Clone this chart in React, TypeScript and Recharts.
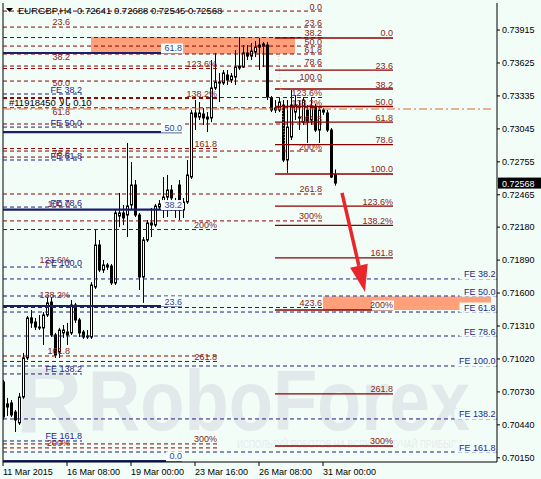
import React from 'react';
import { ComposedChart, Bar, XAxis, YAxis, ReferenceLine, ReferenceArea } from 'recharts';

// ---------- data ----------
const opens = [0.70817,0.70624,0.70633,0.70553,0.70457,0.70685,0.71029,0.71381,0.71345,0.71301,0.71293,0.71407,0.71521,0.71231,0.71081,0.71249,0.71257,0.71249,0.71495,0.71363,0.71257,0.71222,0.71213,0.71653,0.72023,0.71803,0.71847,0.71838,0.71689,0.72278,0.72305,0.72287,0.72375,0.72551,0.72287,0.71741,0.72067,0.72217,0.72199,0.72357,0.72375,0.72445,0.72507,0.72401,0.72551,0.72331,0.72401,0.72621,0.73185,0.73149,0.73176,0.73149,0.73141,0.73405,0.73449,0.73449,0.73519,0.73475,0.73501,0.73581,0.73589,0.73713,0.73686,0.73721,0.73765,0.73774,0.73783,0.73317,0.73229,0.73211,0.73255,0.72771,0.72973,0.73193,0.73149,0.73105,0.73211,0.73123,0.73237,0.73035,0.73211,0.73185,0.73035,0.72641];
const highs = [0.70835,0.70677,0.70659,0.70571,0.70721,0.71073,0.71398,0.71451,0.71381,0.71407,0.71433,0.71565,0.71565,0.71249,0.71293,0.71319,0.71337,0.71539,0.71513,0.71381,0.71275,0.71275,0.71697,0.72155,0.72067,0.71891,0.71865,0.71856,0.72331,0.72481,0.72375,0.72921,0.72753,0.72595,0.72305,0.72093,0.72243,0.72349,0.72384,0.72419,0.72621,0.72639,0.72551,0.72437,0.72595,0.72437,0.72771,0.73211,0.73299,0.73281,0.73229,0.73193,0.73651,0.73713,0.73537,0.73563,0.73563,0.73537,0.73739,0.73853,0.73783,0.73783,0.73801,0.73818,0.73845,0.73809,0.73809,0.73334,0.73299,0.73317,0.73299,0.73299,0.73387,0.73343,0.73299,0.73325,0.73255,0.73325,0.73264,0.73229,0.73229,0.73211,0.73053,0.72688];
const lows = [0.70483,0.70518,0.70509,0.70377,0.70439,0.70668,0.71011,0.71293,0.71275,0.71275,0.71143,0.71389,0.71213,0.71029,0.71029,0.71205,0.71143,0.71231,0.71337,0.71213,0.71196,0.71196,0.71196,0.71636,0.71785,0.71777,0.71803,0.71671,0.71671,0.72181,0.72199,0.72093,0.72331,0.72269,0.71627,0.71513,0.72049,0.72093,0.72181,0.72340,0.72261,0.72269,0.72322,0.72261,0.72243,0.72261,0.72384,0.72604,0.73035,0.73123,0.73079,0.73017,0.73105,0.73387,0.73281,0.73431,0.73431,0.73449,0.73431,0.73563,0.73581,0.73651,0.73651,0.73677,0.73563,0.73589,0.73299,0.73193,0.73185,0.73193,0.72753,0.72657,0.72947,0.73123,0.73035,0.73079,0.72921,0.73079,0.73017,0.72921,0.73167,0.73017,0.72613,0.72545];
const closes = [0.70509,0.70597,0.70527,0.70483,0.70685,0.71029,0.71381,0.71337,0.71301,0.71293,0.71407,0.71513,0.71231,0.71055,0.71275,0.71275,0.71231,0.71495,0.71363,0.71249,0.71213,0.71213,0.71671,0.72023,0.71803,0.71847,0.71829,0.71689,0.72305,0.72305,0.72261,0.72366,0.72551,0.72287,0.71741,0.72067,0.72217,0.72199,0.72366,0.72384,0.72445,0.72507,0.72437,0.72331,0.72331,0.72401,0.72639,0.73185,0.73149,0.73185,0.73141,0.73132,0.73405,0.73457,0.73457,0.73537,0.73475,0.73510,0.73589,0.73598,0.73713,0.73686,0.73730,0.73765,0.73783,0.73792,0.73325,0.73211,0.73211,0.73281,0.72771,0.73061,0.73255,0.73255,0.73141,0.73299,0.73105,0.73237,0.73035,0.73211,0.73193,0.73035,0.72621,0.72568];

const xTickIdx = [0, 16, 32, 48, 64, 80];
const xTickLabels = ['11 Mar 2015', '16 Mar 08:00', '19 Mar 00:00', '23 Mar 16:00', '26 Mar 08:00', '31 Mar 00:00'];
const yTicks = [0.73915,0.73625,0.73335,0.73045,0.72755,0.72465,0.72180,0.71890,0.71600,0.71310,0.71020,0.70730,0.70440,0.70150];

const setBLabels = ['0.0','23.6','38.2','50.0','61.8','78.6','100.0','123.6%','138.2%','161.8','200%','261.8','300%','423.6'];
const setBPrices = [0.74082,0.73941,0.73849,0.73774,0.73704,0.73598,0.73466,0.73321,0.73231,0.73088,0.72850,0.72472,0.72235,0.71473];

const setALabels = ['23.6','38.2','50.0','61.8','78.6','100.0','123.6%','138.2%','161.8','200%'];
const setAPrices = [0.73950,0.73642,0.73405,0.73158,0.72797,0.72340,0.71847,0.71539,0.71046,0.70237];
const setALinePrices = [0.72797,0.71046,0.70237];

const setDLabels = ['123.6%','138.2%','161.8','200%','261.8','300%'];
const setDPrices = [0.73576,0.73312,0.72872,0.72159,0.70998,0.70272];

const setCLabels = ['0.0','23.6','38.2','50.0','61.8','78.6','100.0','123.6%','138.2%','161.8','200%','261.8','300%'];
const setCPrices = [0.73845,0.73563,0.73396,0.73242,0.73105,0.72907,0.72648,0.72366,0.72195,0.71909,0.71451,0.70712,0.70254];

const feLabels = ['FE 38.2','FE 50.0','FE 61.8','FE 78.6','FE 100.0','FE 138.2','FE 161.8'];
const feRightPrices = [0.71724,0.71574,0.71433,0.71222,0.70958,0.70492,0.70201];
const feLeftPrices = [0.73352,0.73061,0.72771,0.72357,0.71829,0.70888,0.70298];

const navyLabels = ['61.8','50.0','38.2','23.6','0.0'];
const navyPrices = [0.73713,0.73017,0.72335,0.71486,0.70122];

const orderPrice = 0.73220;
const orderText = '#11918450 \u200Eبالا\u200E 0.10';
const titleText = 'EURGBP,H4  0.72641 0.72688 0.72545 0.72568';

// index ranges (bars) and price ranges for drawn objects
const topZone = { x1: 22, x2: 73, y1: 0.73704, y2: 0.73853 };
const bottomZone = { x1: 80, x2: 122, y1: 0.71451, y2: 0.71570 };
const arrowFrom = { x: 84.75, y: 0.72481 };
const arrowTo = { x: 90.5, y: 0.71609 };
const trendFrom = { x: 68.75, y: 0.73739 };
const trendTo = { x: 71, y: 0.72657 };

const data = opens.map((o, i) => ({ i, o, h: highs[i], l: lows[i], c: closes[i] }));

// ---------- styles ----------
const FONT = '"Liberation Sans", Arial, sans-serif';
const BG = '#F2FDF8';
const RED_LINE = '#8b0000';
const RED_TEXT = '#8a2418';
const NAVY_DASH = '#1f1f7a';
const NAVY_TEXT = '#26268a';
const NAVY_SOLID = '#1b1f6a';
const NAVY_LABEL = '#2f469c';

const Candle = (props: any) => {
  const { x, y, width, height, payload } = props;
  if (x == null || y == null) return null;
  const cx = Math.round(x + width / 2) + 0.5;
  const { o, h, l, c } = payload;
  const range = h - l || 1e-9;
  const yOf = (v: number) => y + ((h - v) / range) * height;
  const top = yOf(Math.max(o, c));
  const bot = yOf(Math.min(o, c));
  const bull = c >= o;
  return (
    <g>
      <line x1={cx} x2={cx} y1={y} y2={y + height} stroke="#000" strokeWidth={1} />
      {bull ? (
        <rect x={cx - 1} y={top} width={2} height={Math.max(bot - top, 1)} fill="#fff" stroke="#000" strokeWidth={1} />
      ) : (
        <rect x={cx - 1.5} y={top - 0.5} width={3} height={Math.max(bot - top, 1) + 1} fill="#000" />
      )}
    </g>
  );
};

const endLabel = (text: string, color: string, opts: any = {}) => (props: any) => {
  const vb = props.viewBox || {};
  const xe = (vb.x || 0) + (vb.width || 0) + (opts.dx || 0);
  const yb = (vb.y || 0) - 1.5;
  const w = text.length * 5.0;
  return (
    <g>
      {opts.bg ? <rect x={xe - w - 1} y={yb - 8} width={w + 2} height={10} fill={opts.bg} /> : null}
      <text x={xe} y={yb} textAnchor="end" fill={color} fontSize={9} fontFamily={FONT}>{text}</text>
    </g>
  );
};

const orderLabel = (props: any) => {
  const vb = props.viewBox || {};
  return (
    <text x={(vb.x || 0) + 6} y={(vb.y || 0) - 3} fill="#000" fontSize={9.5} fontFamily={FONT} direction="ltr">{orderText}</text>
  );
};

const priceBox = (props: any) => {
  const vb = props.viewBox || {};
  const x0 = (vb.x || 0) + (vb.width || 0) + 1;
  const yc = vb.y || 0;
  return (
    <g>
      <rect x={x0} y={yc - 5.5} width={43} height={11} fill="#000" />
      <text x={x0 + 4} y={yc + 3.5} fill="#fff" fontSize={9} fontFamily={FONT}>0.72568</text>
    </g>
  );
};

const ArrowShape = (p: any) => {
  const { x1, y1, x2, y2 } = p;
  if (x1 == null) return null;
  const ang = Math.atan2(y2 - y1, x2 - x1);
  const L = 27, W = 9;
  const bx = x2 - L * Math.cos(ang);
  const by = y2 - L * Math.sin(ang);
  const lx = bx + W * Math.sin(ang), ly = by - W * Math.cos(ang);
  const rx = bx - W * Math.sin(ang), ry = by + W * Math.cos(ang);
  return (
    <g>
      <line x1={x1} y1={y1} x2={bx} y2={by} stroke="#e8262b" strokeWidth={3.5} />
      <polygon points={`${x2},${y2} ${lx},${ly} ${rx},${ry}`} fill="#e8262b" />
    </g>
  );
};

const XTick = (props: any) => {
  const { x, y, payload } = props;
  const k = xTickIdx.indexOf(payload.value);
  return (
    <text x={x} y={y + 7} textAnchor="start" fontSize={9} fontFamily={FONT} fill="#000">{k >= 0 ? xTickLabels[k] : ''}</text>
  );
};

const LAST = 123.5;

export default function App() {
  return (
    <div style={{ position: 'absolute', left: 0, top: 0, width: 541, height: 479, background: BG, overflow: 'hidden' }}>
      <svg width={541} height={479} style={{ position: 'absolute', left: 0, top: 0 }}>
        <text x={16} y={432} fontSize={92} fontWeight="bold" fontFamily={FONT} fill="#e1e9ea">R</text>
        <text x={88} y={430} fontSize={86} fontWeight="bold" fontFamily={FONT} fill="#e1e9ea" textLength={382} lengthAdjust="spacingAndGlyphs">RoboForex</text>
        <text x={237} y={448} fontSize={11} fontFamily={FONT} fill="#e4ecec" textLength={225} lengthAdjust="spacingAndGlyphs">ИСПОЛЬЗУЙ РОБОТОВ НА ВСЯКИЙ СЛУЧАЙ ПРИБЫЛИ</text>
      </svg>
      <div style={{ position: 'absolute', left: 0, top: 0 }}>
        <ComposedChart width={541} height={479} data={data} margin={{ top: 3, right: 0, bottom: 0, left: 3 }}>
          <XAxis
            type="number"
            dataKey="i"
            domain={[0, LAST]}
            allowDataOverflow
            ticks={xTickIdx}
            interval={0}
            tick={<XTick />}
            tickSize={4}
            height={17}
            axisLine={{ stroke: '#000' }}
            tickLine={{ stroke: '#000' }}
          />
          <YAxis
            orientation="right"
            type="number"
            domain={[0.70113, 0.74153]}
            allowDataOverflow
            ticks={yTicks}
            interval={0}
            width={44}
            tickSize={3}
            tickMargin={2}
            tickFormatter={(v: number) => v.toFixed(5)}
            tick={{ fontSize: 9, fill: '#000', fontFamily: FONT }}
            axisLine={{ stroke: '#000' }}
            tickLine={{ stroke: '#000' }}
          />
          <ReferenceArea x1={topZone.x1} x2={topZone.x2} y1={topZone.y1} y2={topZone.y2} fill="#ffa07a" fillOpacity={1} stroke="none" />
          <ReferenceArea x1={bottomZone.x1} x2={bottomZone.x2} y1={bottomZone.y1} y2={bottomZone.y2} fill="#ffa07a" fillOpacity={1} stroke="none" />

          <Bar dataKey={(d: any) => [d.l, d.h]} shape={Candle} barSize={4} isAnimationActive={false} />

          <ReferenceLine x={0} stroke="#000" />

          {setBPrices.map((p, k) => (
            <ReferenceLine key={'b' + k} segment={[{ x: 0, y: p }, { x: 79.75, y: p }]} stroke={RED_LINE} strokeDasharray="4 3" label={endLabel(setBLabels[k], RED_TEXT)} />
          ))}
          {setALinePrices.map((p, k) => (
            <ReferenceLine key={'al' + k} segment={[{ x: 0, y: p }, { x: 53.5, y: p }]} stroke={RED_LINE} strokeDasharray="4 3" />
          ))}
          {setAPrices.map((p, k) => (
            <ReferenceLine key={'a' + k} segment={[{ x: 0, y: p }, { x: 16.75, y: p }]} stroke="none" label={endLabel(setALabels[k], RED_TEXT)} />
          ))}
          {setDPrices.map((p, k) => (
            <ReferenceLine key={'d' + k} segment={[{ x: 0, y: p }, { x: 53.5, y: p }]} stroke={RED_LINE} strokeDasharray="4 3" label={endLabel(setDLabels[k], RED_TEXT)} />
          ))}
          {setCPrices.map((p, k) => (
            <ReferenceLine key={'c' + k} segment={[{ x: 68, y: p }, { x: 97.5, y: p }]} stroke={RED_LINE} strokeWidth={1.3} label={endLabel(setCLabels[k], RED_TEXT, { bg: k === 10 ? BG : undefined })} />
          ))}
          {feRightPrices.map((p, k) => (
            <ReferenceLine key={'fr' + k} segment={[{ x: 0, y: p }, { x: LAST, y: p }]} stroke={NAVY_DASH} strokeDasharray="4 3" label={endLabel(feLabels[k], NAVY_TEXT, { dx: -1.5, bg: BG })} />
          ))}
          {feLeftPrices.map((p, k) => (
            <ReferenceLine key={'fl' + k} segment={[{ x: 0, y: p }, { x: 19.75, y: p }]} stroke={NAVY_DASH} strokeDasharray="4 3" label={endLabel(feLabels[k], NAVY_TEXT)} />
          ))}
          {navyPrices.map((p, k) => (
            <ReferenceLine key={'n' + k} segment={[{ x: 0, y: p }, { x: 44.75, y: p }]} stroke={NAVY_SOLID} strokeWidth={2.2} label={endLabel(navyLabels[k], NAVY_LABEL, { bg: '#f8fffc' })} />
          ))}

          <ReferenceLine segment={[{ x: 0, y: orderPrice }, { x: 122.5, y: orderPrice }]} stroke="#f0602a" strokeDasharray="8 3 2 3" label={orderLabel} />
          <ReferenceLine segment={[trendFrom, trendTo]} stroke="#f2c49a" strokeDasharray="1 2" />
          <ReferenceLine segment={[arrowFrom, arrowTo]} shape={ArrowShape} />
          <ReferenceLine segment={[{ x: 0, y: closes[closes.length - 1] }, { x: LAST, y: closes[closes.length - 1] }]} stroke="none" label={priceBox} />
        </ComposedChart>
      </div>
      <svg width={541} height={479} style={{ position: 'absolute', left: 0, top: 0, pointerEvents: 'none' }}>
        <polygon points="6,8 13,8 9.5,12" fill="#000" />
        <text x={18} y={14} fontSize={9.5} fontFamily={FONT} fill="#000" style={{ whiteSpace: 'pre' }}>{titleText}</text>
      </svg>
    </div>
  );
}
